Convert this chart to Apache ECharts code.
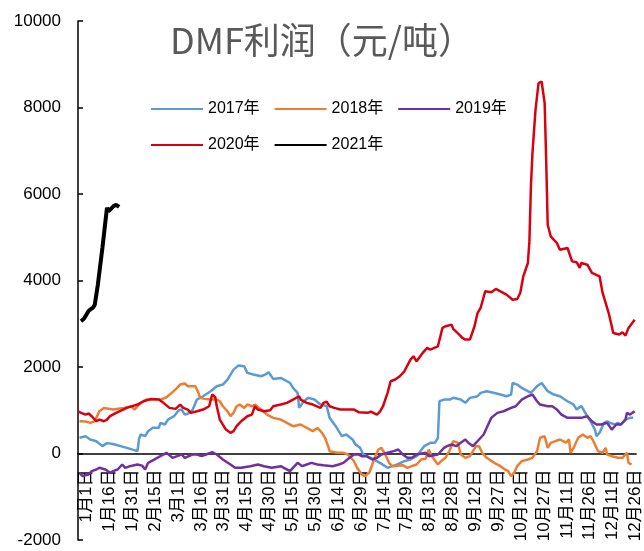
<!DOCTYPE html>
<html>
<head>
<meta charset="utf-8">
<script src="https://cdn.jsdelivr.net/npm/echarts@6/dist/echarts.min.js"></script>
<style>
html,body{margin:0;padding:0;background:#fff;}
#main{width:644px;height:551px;}
</style>
</head>
<body>
<div id="main"></div>
<script>
// x 轴刻度标签（每15天一个，闰年）
var xLabels = ['1月1日','1月16日','1月31日','2月15日','3月1日','3月16日','3月31日','4月15日','4月30日',
  '5月15日','5月30日','6月14日','6月29日','7月14日','7月29日','8月13日','8月28日','9月12日',
  '9月27日','10月12日','10月27日','11月11日','11月26日','12月11日','12月26日'];
var yTicks = [-2000, 10000, 2000]; // min, max, interval

// [第几天, 利润]
var y2017 = [[1,363],[5,400],[8,324],[12,285],[16,170],[19,240],[23,220],[32,131],[39,54],[40,330],
  [41,439],[44,400],[46,516],[49,594],[53,594],[54,709],[57,670],[59,785],[63,862],[66,1000],
  [68,1016],[70,900],[72,920],[75,1000],[78,1247],[82,1324],[87,1440],[91,1555],[95,1594],[98,1710],
  [102,1940],[105,2032],[109,2017],[111,1864],[115,1825],[120,1786],[123,1830],[125,1879],[128,1725],
  [133,1748],[137,1670],[139,1632],[141,1517],[144,1402],[145,1055],[148,1208],[151,1286],[155,1247],
  [159,1132],[163,1100],[165,824],[169,631],[173,400],[176,439],[180,324],[182,208],[185,131],
  [187,-23],[192,-100],[198,-216],[203,-331],[206,-293],[209,-260],[214,-177],[218,-139],[222,-62],
  [227,170],[231,247],[234,247],[236,363],[237,1209],[240,1247],[244,1247],[246,1290],[251,1247],
  [254,1171],[257,1286],[262,1324],[264,1402],[268,1440],[273,1400],[277,1363],[281,1324],[284,1363],
  [285,1632],[288,1594],[291,1517],[297,1402],[301,1555],[304,1632],[308,1440],[312,1363],[316,1324],
  [321,1208],[325,1132],[327,1016],[330,1100],[332,977],[336,746],[339,554],[340,400],[342,478],
  [345,709],[347,746],[349,709],[352,670],[354,709],[356,670],[359,785],[362,824],[364,824]];

var y2018 = [[1,746],[5,740],[8,709],[11,746],[12,824],[14,977],[17,1050],[23,1016],[30,1055],
  [35,1093],[37,1016],[41,1171],[45,1247],[49,1240],[54,1247],[58,1300],[62,1420],[65,1517],
  [67,1594],[70,1620],[72,1555],[77,1555],[79,1402],[80,1286],[83,1263],[87,1247],[91,1247],
  [93,1208],[95,1093],[98,977],[100,862],[102,940],[104,1093],[106,1132],[109,1055],[111,1132],
  [114,1093],[116,1132],[120,1016],[124,900],[128,824],[133,785],[137,709],[141,631],[146,670],
  [150,594],[154,516],[157,590],[160,478],[162,363],[164,170],[165,54],[170,16],[174,16],[177,-23],
  [181,-180],[183,-331],[186,-485],[188,-524],[191,-446],[193,-254],[194,-139],[197,92],[199,131],
  [202,-62],[204,-216],[206,-293],[213,-270],[216,-331],[219,-290],[222,-254],[225,-139],[228,-120],
  [230,92],[232,-62],[236,-254],[238,-180],[241,-100],[244,92],[246,285],[249,250],[251,-23],
  [254,-100],[257,-60],[261,170],[263,170],[265,16],[268,-100],[273,-216],[277,-293],[280,-370],
  [282,-400],[284,-524],[286,-446],[288,-293],[291,-177],[295,-139],[298,-100],[301,54],[303,363],
  [306,400],[308,131],[310,247],[313,285],[316,324],[320,250],[322,324],[323,16],[325,131],[328,363],
  [331,439],[334,363],[336,400],[338,285],[341,54],[344,16],[346,131],[347,-23],[350,-62],[354,-100],
  [357,-100],[360,16],[361,-216],[363,-254]];

var y2019 = [[1,-446],[3,-524],[7,-485],[9,-408],[12,-370],[14,-331],[18,-370],[21,-446],[23,-408],
  [26,-370],[29,-254],[31,-331],[34,-293],[39,-254],[42,-280],[44,-370],[46,-216],[52,-100],[54,-62],
  [58,16],[62,-100],[65,-62],[68,-23],[70,-100],[75,-23],[78,-23],[81,-62],[84,-23],[88,31],[91,-23],
  [95,-139],[100,-254],[103,-331],[107,-331],[113,-293],[118,-254],[122,-293],[127,-331],[133,-293],
  [135,-331],[139,-408],[142,-293],[144,-216],[147,-293],[150,-254],[153,-216],[157,-254],[161,-270],
  [167,-293],[171,-254],[174,-216],[178,-100],[181,-23],[184,-23],[186,-62],[189,-62],[193,-139],
  [196,-100],[199,-23],[203,16],[207,54],[210,92],[213,-23],[216,-100],[219,-100],[222,-23],[228,16],
  [230,-62],[236,-23],[240,131],[242,170],[245,208],[248,170],[251,247],[254,324],[256,247],[259,170],
  [263,324],[266,439],[268,594],[271,824],[275,940],[279,977],[284,1055],[287,1093],[291,1247],
  [295,1324],[298,1363],[301,1208],[303,1132],[308,1093],[311,1093],[314,1016],[317,900],[321,824],
  [325,824],[330,824],[334,862],[337,746],[340,670],[343,670],[347,709],[350,554],[353,670],[356,670],
  [359,785],[360,940],[362,900],[365,977]];

var y2020 = [[0,977],[2,940],[5,900],[7,924],[9,862],[10,900],[12,746],[14,785],[17,746],[19,785],
  [21,862],[25,940],[32,1055],[39,1132],[43,1208],[48,1263],[53,1247],[56,1171],[60,1055],[64,1032],
  [67,1132],[69,1055],[72,1016],[74,940],[78,977],[82,1016],[86,1093],[88,1363],[90,1300],[91,1093],
  [93,785],[97,554],[100,478],[102,516],[104,631],[107,746],[111,862],[114,900],[116,1093],[118,1016],
  [122,977],[126,1000],[128,1093],[133,1132],[137,1171],[141,1247],[145,1324],[146,1247],[150,1171],
  [154,1132],[159,1055],[161,1171],[163,1200],[165,1093],[168,1055],[172,1016],[176,1016],[181,1016],
  [184,955],[185,977],[190,940],[192,970],[196,900],[198,970],[200,1093],[203,1402],[205,1670],
  [208,1710],[211,1786],[214,1901],[218,2170],[220,2248],[222,2132],[226,2326],[229,2442],[231,2400],
  [236,2479],[239,2904],[241,2942],[245,2980],[246,2880],[250,2750],[252,2673],[254,2633],[257,2633],
  [260,2942],[262,3248],[264,3365],[267,3750],[271,3726],[274,3805],[277,3750],[281,3673],[285,3557],
  [288,3573],[290,3712],[292,4096],[295,4405],[296,4904],[297,6175],[298,6946],[300,7946],[302,8563],
  [304,8601],[306,8101],[307,6791],[308,5290],[310,5020],[314,4867],[316,4712],[321,4751],[324,4442],
  [327,4420],[329,4290],[330,4405],[334,4366],[337,4174],[342,4096],[344,3712],[348,3248],[350,2942],
  [351,2788],[355,2750],[357,2804],[359,2726],[361,2904],[365,3095]];

var y2021 = [[2,3060],[4,3120],[5,3180],[7,3300],[10,3380],[11,3440],[13,3900],[16,4750],[19,5680],
  [20,5600],[23,5710],[25,5750],[27,5700]];

var myChart = echarts.init(document.getElementById('main'));
var font = 'Liberation Sans, Arial, Noto Sans CJK SC, sans-serif';

option = {
    animation: false,
    title: {
        text: 'DMF利润（元/吨）',
        left: 165,
        top: 17,
        textStyle: {
            fontSize: 36,
            fontWeight: 'normal',
            color: '#595959',
            fontFamily: 'Noto Sans CJK SC'
        }
    },
    legend: [
        {
            data: ['2017年', '2018年', '2019年'],
            left: 145, top: 96,
            itemWidth: 52, itemHeight: 14, itemGap: 14,
            itemStyle: {opacity: 0},
            textStyle: {fontSize: 16, color: '#000', fontFamily: font}
        },
        {
            data: ['2020年', '2021年'],
            left: 145, top: 132,
            itemWidth: 52, itemHeight: 14, itemGap: 14,
            itemStyle: {opacity: 0},
            textStyle: {fontSize: 16, color: '#000', fontFamily: font}
        }
    ],
    grid: {
        left: 78,
        right: 7,
        top: 21,
        bottom: 11,
        containLabel: false
    },
    xAxis: {
        type: 'value',
        min: 0,
        max: 366,
        interval: 15,
        position: 'bottom',
        // 轴线画在 0 处：网格底部 (-2000) 往上 86.5px
        offset: -86.5,
        axisLine: {onZero: false, lineStyle: {color: '#000', width: 1.5}},
        axisTick: {show: false},
        splitLine: {show: false},
        axisLabel: {
            rotate: 90,
            fontSize: 17,
            verticalAlign: 'top',
            color: '#000',
            margin: 16,
            fontFamily: font,
            showMinLabel: true,
            formatter: function (v) {
                if (v % 15 !== 0) return '';
                return xLabels[v / 15] || '';
            }
        }
    },
    yAxis: {
        type: 'value',
        min: yTicks[0],
        max: yTicks[1],
        interval: yTicks[2],
        axisLine: {show: true, onZero: false, lineStyle: {color: '#000', width: 1.5}},
        axisTick: {show: true, inside: true, length: 5, lineStyle: {color: '#000', width: 1.5}},
        splitLine: {show: false},
        axisLabel: {
            fontSize: 17, color: '#000', margin: 17, fontFamily: font,
            formatter: function (v) { return String(v); }
        }
    },
    series: [
        {name: '2017年', type: 'line', symbol: 'none', data: y2017,
            lineStyle: {width: 2.5, color: '#5B9BD5'}, itemStyle: {color: '#5B9BD5'}},
        {name: '2018年', type: 'line', symbol: 'none', data: y2018,
            lineStyle: {width: 2.5, color: '#ED7D31'}, itemStyle: {color: '#ED7D31'}},
        {name: '2019年', type: 'line', symbol: 'none', data: y2019,
            lineStyle: {width: 2.5, color: '#7030A0'}, itemStyle: {color: '#7030A0'}},
        {name: '2020年', type: 'line', symbol: 'none', data: y2020,
            lineStyle: {width: 2.5, color: '#D9000F'}, itemStyle: {color: '#D9000F'}},
        {name: '2021年', type: 'line', symbol: 'none', data: y2021,
            lineStyle: {width: 4, color: '#000'}, itemStyle: {color: '#000'}}
    ]
};
myChart.setOption(option, true);
</script>
</body>
</html>
